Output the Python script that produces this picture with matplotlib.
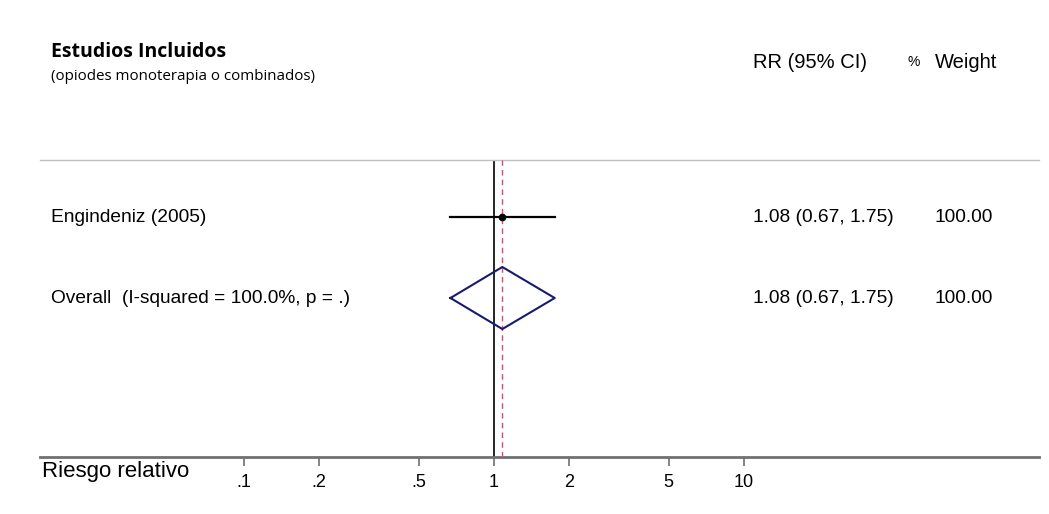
import matplotlib
matplotlib.use("Agg")
import matplotlib.pyplot as plt
from matplotlib.transforms import blended_transform_factory
import numpy as np

# ---- data ----
study_labels = ["Engindeniz (2005)"]
study_rr = [1.08]
study_lo = [0.67]
study_hi = [1.75]
study_weight = ["100.00"]
overall_label = "Overall  (I-squared = 100.0%, p = .)"
overall_rr = 1.08
overall_lo = 0.67
overall_hi = 1.75
overall_weight = "100.00"
tick_values = [0.1, 0.2, 0.5, 1, 2, 5, 10]
tick_labels = [".1", ".2", ".5", "1", "2", "5", "10"]

W, H = 1049, 514
fig = plt.figure(figsize=(W / 100, H / 100), dpi=100)
fig.patch.set_facecolor("white")

# axes region in pixels (left, top, right, bottom)
L, T, R, B = 40, 160, 1039, 457
ax = fig.add_axes([L / W, 1 - B / H, (R - L) / W, (B - T) / H])
ax.set_xscale("log")
ax.set_xlim(0.01528, 151.4)
ax.set_ylim(3.963, 0.296)

sans = ["Liberation Sans", "DejaVu Sans"]
head = ["Open Sans", "DejaVu Sans"]

# null line and overall dashed line
ax.axvline(1, color="black", lw=1.2, zorder=2)
ax.axvline(overall_rr, color="#b85a78", lw=1.0, ls=(0, (4, 3)), zorder=3)

# studies
for i, (lab, rr, lo, hi, w) in enumerate(zip(study_labels, study_rr, study_lo, study_hi, study_weight)):
    y = i + 1
    ax.plot([lo, hi], [y, y], color="black", lw=1.6, zorder=4)
    ax.plot([rr], [y], marker="o", ms=4.5, color="black", zorder=5)

# overall diamond
yo = len(study_labels) + 1
dh = 0.383
ax.plot([overall_lo, overall_rr, overall_hi, overall_rr, overall_lo],
        [yo, yo - dh, yo, yo + dh, yo], color="#1a1a6e", lw=1.5, zorder=4)

# spines / ticks
for s in ["left", "right"]:
    ax.spines[s].set_visible(False)
ax.spines["top"].set_color("#c0c0c0")
ax.spines["top"].set_linewidth(1.0)
ax.spines["bottom"].set_color("#707070")
ax.spines["bottom"].set_linewidth(2.0)
ax.set_yticks([])
ax.set_xticks(tick_values)
ax.set_xticklabels(tick_labels)
ax.minorticks_off()
ax.tick_params(axis="x", which="major", direction="out", length=6.5, width=1.2,
               color="#707070", labelsize=13, pad=6)
for t in ax.get_xticklabels():
    t.set_family(sans)

# text columns
tr = blended_transform_factory(fig.transFigure, ax.transData)
xl = 51 / W
xc = 753 / W
xw = 935 / W
fs = 13.8
for i, (lab, rr, lo, hi, w) in enumerate(zip(study_labels, study_rr, study_lo, study_hi, study_weight)):
    y = i + 1
    ax.text(xl, y, lab, transform=tr, family=sans, fontsize=fs, va="center", ha="left")
    ax.text(xc, y, f"{rr:.2f} ({lo:.2f}, {hi:.2f})", transform=tr, family=sans,
            fontsize=fs, va="center", ha="left")
    ax.text(xw, y, w, transform=tr, family=sans, fontsize=fs, va="center", ha="left")
ax.text(xl, yo, overall_label, transform=tr, family=sans, fontsize=fs, va="center", ha="left")
ax.text(xc, yo, f"{overall_rr:.2f} ({overall_lo:.2f}, {overall_hi:.2f})", transform=tr,
        family=sans, fontsize=fs, va="center", ha="left")
ax.text(xw, yo, overall_weight, transform=tr, family=sans, fontsize=fs, va="center", ha="left")

# headers
fig.text(51 / W, 1 - 52 / H, "Estudios Incluidos", family=head, fontsize=14,
         fontweight="bold", va="center", ha="left")
fig.text(51 / W, 1 - 76 / H, "(opiodes monoterapia o combinados)", family=head,
         fontsize=10.9, va="center", ha="left")
fig.text(753 / W, 1 - 63 / H, "RR (95% CI)", family=sans, fontsize=14.5, va="center", ha="left")
fig.text(907 / W, 1 - 62 / H, "%", family=sans, fontsize=10, va="center", ha="left")
fig.text(935 / W, 1 - 63 / H, "Weight", family=sans, fontsize=14.5, va="center", ha="left")

# x axis title
fig.text(42 / W, 1 - 472 / H, "Riesgo relativo", family=sans, fontsize=16,
         va="center", ha="left")

fig.savefig("out.png", dpi=100)
